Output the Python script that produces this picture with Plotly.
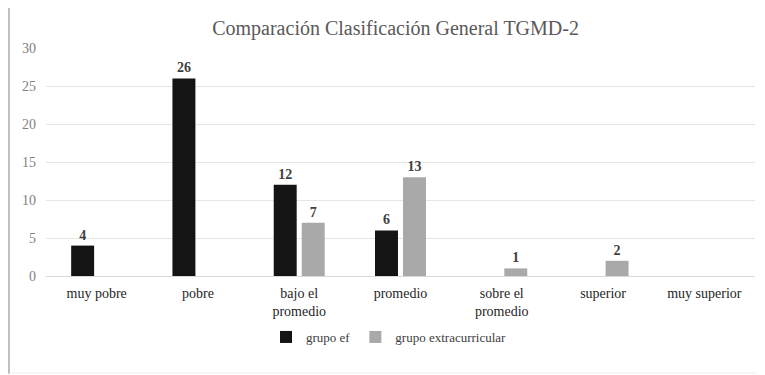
import plotly.graph_objects as go

categories = ["muy pobre", "pobre", "bajo el<br>promedio", "promedio", "sobre el<br>promedio", "superior", "muy superior"]
grupo_ef = [4, 26, 12, 6, 0, 0, 0]
grupo_extra = [0, 0, 7, 13, 1, 2, 0]
y_ticks = [0, 5, 10, 15, 20, 25, 30]

def labels(vals):
    return [str(v) if v else "" for v in vals]

serif = "Liberation Serif, serif"

# page body has an 8px margin; compensate so screen coordinates match
OFF = 8
W, H = 765 - OFF, 375 - OFF

def sx(x):
    return x - OFF

ml, mr, mt, mb = sx(46), 10, sx(48), 375 - 276
pw, ph = W - ml - mr, H - mt - mb

def px(x):
    return (sx(x) - ml) / pw

def py(y):
    return 1 - (sx(y) - mt) / ph

fig = go.Figure()
fig.add_trace(go.Bar(
    x=categories, y=grupo_ef, name="grupo ef",
    marker=dict(color="#141414", line=dict(width=0)),
    text=labels(grupo_ef), textposition="outside", cliponaxis=False,
    textfont=dict(family=serif, size=14, color="#404040", weight="bold"),
))
fig.add_trace(go.Bar(
    x=categories, y=grupo_extra, name="grupo extracurricular",
    marker=dict(color="#a9a9a9", line=dict(width=0)),
    text=labels(grupo_extra), textposition="outside", cliponaxis=False,
    textfont=dict(family=serif, size=14, color="#404040", weight="bold"),
))

fig.update_layout(
    width=W, height=H,
    margin=dict(l=ml, r=mr, t=mt, b=mb),
    paper_bgcolor="white", plot_bgcolor="white",
    barmode="group", bargap=0.447, bargroupgap=0.18,
    font=dict(family=serif, color="#595959"),
    title=dict(text="Comparación Clasificación General TGMD-2",
               x=px(409), xanchor="center", y=1 - sx(28) / H, yanchor="middle",
               font=dict(family=serif, size=20, color="#595959")),
    xaxis=dict(showgrid=False, showline=True, linecolor="#d9d9d9", ticks="",
               ticklabelstandoff=4,
               tickfont=dict(family=serif, size=14, color="#262626"), fixedrange=True),
    yaxis=dict(range=[0, 30], tickvals=y_ticks, showgrid=True, gridcolor="#e6e6e6",
               zeroline=False, showline=False, ticks="", ticklabelstandoff=9,
               tickfont=dict(family=serif, size=14, color="#7f7f7f"), fixedrange=True),
    legend=dict(orientation="h", x=px(389), xanchor="center", y=py(337), yanchor="middle",
                font=dict(family=serif, size=13, color="#404040"),
                itemwidth=30, traceorder="normal"),
    showlegend=True,
    shapes=[
        dict(type="line", xref="paper", yref="paper", x0=px(9), x1=px(9), y0=py(3), y1=py(374),
             line=dict(color="#bfbfbf", width=2)),
        dict(type="line", xref="paper", yref="paper", x0=px(9), x1=px(765), y0=py(4), y1=py(4),
             line=dict(color="#d9d9d9", width=2)),
        dict(type="line", xref="paper", yref="paper", x0=px(9), x1=px(765), y0=py(373), y1=py(373),
             line=dict(color="#efefef", width=1)),
    ],
)

fig.write_html("out.html")
